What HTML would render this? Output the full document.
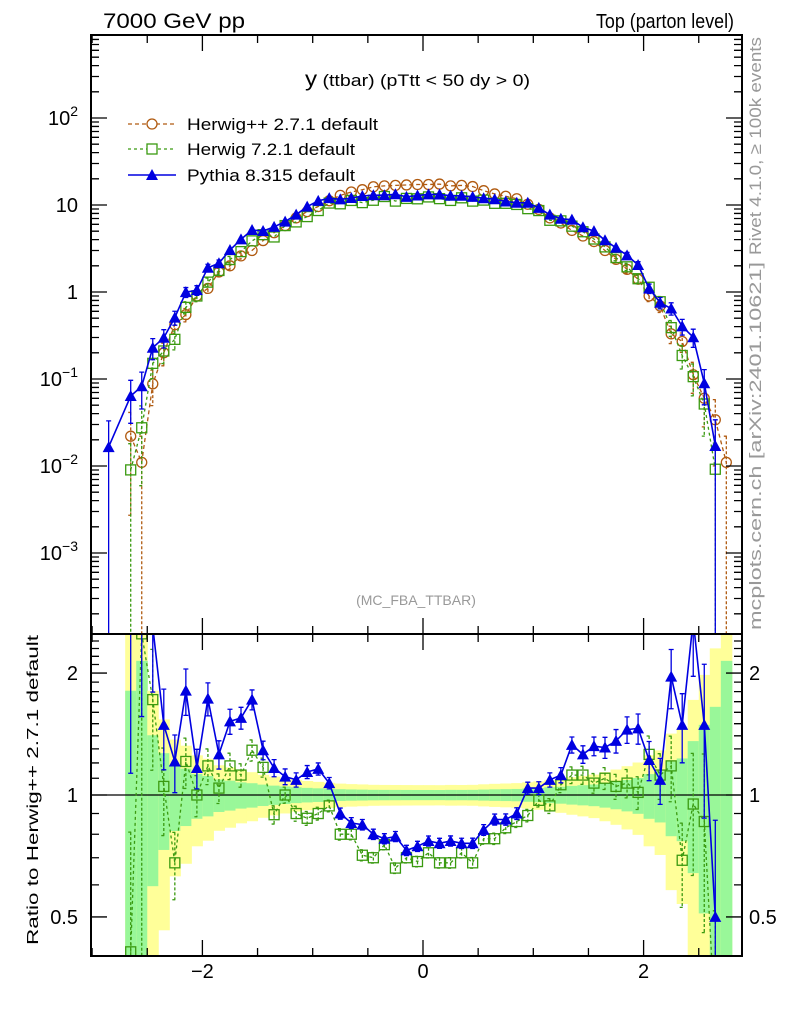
<!DOCTYPE html>
<html><head><meta charset="utf-8"><style>
html,body{margin:0;background:#fff;overflow:hidden;width:786px;height:1024px;}
svg{display:block;font-family:"Liberation Sans",sans-serif;}
</style></head><body>
<svg id="chart" width="786" height="1024" viewBox="0 0 786 1024" xmlns="http://www.w3.org/2000/svg">
<defs>
<clipPath id="clipMain"><rect x="91" y="35" width="651" height="599"/></clipPath>
<clipPath id="clipRatio"><rect x="91" y="634" width="651" height="322"/></clipPath>
</defs>
<text x="103" y="28" font-size="21" textLength="142" lengthAdjust="spacingAndGlyphs">7000 GeV pp</text>
<text x="596" y="28" font-size="20" textLength="138" lengthAdjust="spacingAndGlyphs">Top (parton level)</text>
<text x="305" y="86" font-size="17" textLength="225" lengthAdjust="spacingAndGlyphs"><tspan font-size="21">y</tspan> (ttbar) (pTtt &lt; 50 dy &gt; 0)</text>
<text x="416" y="605" font-size="14" fill="#999" text-anchor="middle">(MC_FBA_TTBAR)</text>
<text transform="translate(761,255) rotate(-90)" font-size="17" fill="#999" textLength="218" lengthAdjust="spacingAndGlyphs">Rivet 4.1.0, ≥ 100k events</text>
<text transform="translate(761,630) rotate(-90)" font-size="17" fill="#999" textLength="368" lengthAdjust="spacingAndGlyphs">mcplots.cern.ch [arXiv:2401.10621]</text>
<text transform="translate(38,945) rotate(-90)" font-size="16" textLength="310" lengthAdjust="spacingAndGlyphs">Ratio to Herwig++ 2.7.1 default</text>
<g id="bands" clip-path="url(#clipRatio)"></g>
<g id="marksMain" clip-path="url(#clipMain)"></g>
<g id="marksRatio" clip-path="url(#clipRatio)"></g>
<g id="axes"></g>
<g id="legend">
  <line x1="128" y1="124" x2="176" y2="124" stroke="#b05a10" stroke-width="1.3" stroke-dasharray="4,3"/>
  <circle cx="152" cy="124" r="5" fill="#fff" stroke="#b05a10" stroke-width="1.3"/>
  <text x="187" y="130" font-size="17" textLength="191" lengthAdjust="spacingAndGlyphs">Herwig++ 2.7.1 default</text>
  <line x1="128" y1="149" x2="176" y2="149" stroke="#3a9a10" stroke-width="1.3" stroke-dasharray="3,3"/>
  <rect x="147" y="144" width="10" height="10" fill="#fff" stroke="#3a9a10" stroke-width="1.3"/>
  <text x="187" y="155" font-size="17" textLength="168" lengthAdjust="spacingAndGlyphs">Herwig 7.2.1 default</text>
  <line x1="128" y1="175" x2="176" y2="175" stroke="#0000e0" stroke-width="1.5"/>
  <polygon points="152,169 158,180 146,180" fill="#0000e0"/>
  <text x="187" y="181" font-size="17" textLength="168" lengthAdjust="spacingAndGlyphs">Pythia 8.315 default</text>
</g>
</svg>
<script>
const centers = [-2.85,-2.75,-2.65,-2.55,-2.45,-2.35,-2.25,-2.15,-2.05,-1.95,-1.85,-1.75,-1.65,-1.55,-1.45,-1.35,-1.25,-1.15,-1.05,-0.95,-0.85,-0.75,-0.65,-0.55,-0.45,-0.35,-0.25,-0.15,-0.05,0.05,0.15,0.25,0.35,0.45,0.55,0.65,0.75,0.85,0.95,1.05,1.15,1.25,1.35,1.45,1.55,1.65,1.75,1.85,1.95,2.05,2.15,2.25,2.35,2.45,2.55,2.65,2.75];
const herwigpp = [null,null,0.022,0.011,0.088,0.20,0.42,0.55,0.9,1.1,1.7,2.0,2.6,3.0,3.9,4.8,5.8,7.1,8.4,9.6,11.2,12.9,14.1,15.0,16.2,16.6,16.8,17.0,17.2,17.2,17.4,16.6,16.8,16.3,14.6,13.4,12.6,11.8,10.2,8.9,7.1,6.2,5.1,4.4,3.8,3.0,2.37,1.82,1.4,0.9,0.69,0.33,0.27,0.112,0.06,0.034,0.011];
const h7Ratio = [null,null,0.41,2.5,1.72,1.05,0.68,1.21,1.0,1.18,1.04,1.18,1.12,1.29,1.17,0.894,1.0,0.90,0.876,0.90,0.94,0.80,0.80,0.71,0.70,0.754,0.66,0.70,0.685,0.72,0.68,0.68,0.72,0.68,0.78,0.78,0.83,0.86,0.89,0.97,0.94,1.06,1.12,1.12,1.07,1.10,1.05,1.07,1.015,1.26,1.12,1.18,0.69,0.95,0.86,0.27,null];
const pyRatio = [null,null,2.9,7.5,2.6,1.49,1.21,1.81,1.166,1.73,1.26,1.52,1.55,1.72,1.29,1.166,1.11,1.09,1.14,1.16,1.07,0.90,0.853,0.845,0.80,0.78,0.79,0.73,0.747,0.77,0.76,0.77,0.76,0.76,0.82,0.87,0.87,0.90,1.04,1.04,1.09,1.12,1.33,1.26,1.32,1.31,1.36,1.45,1.46,1.22,1.09,1.96,1.49,2.7,1.49,0.50,null];
const pythiaFirstBin = 0.0165;
const xTicks = [-2, 0, 2];
const mainTickLabels = ["10^2","10","1","10^-1","10^-2","10^-3"];
const mainTickValues = [100,10,1,0.1,0.01,0.001];
const ratioTickValues = [2,1,0.5];
const ratioTickLabels = ["2","1","0.5"];

const X0=91,X1=742,MT=35,MB=634,RB=956;
const xS = v => 423 + v*110.3;
const yM = v => 292 - 87*Math.log10(v);
const yR = r => 795 - 405*Math.log10(r);
const NS="http://www.w3.org/2000/svg";
function mk(tag, attrs, parent){const e=document.createElementNS(NS,tag);for(const k in attrs)e.setAttribute(k,attrs[k]);parent.appendChild(e);return e;}
const gM=document.getElementById('marksMain'), gR=document.getElementById('marksRatio'), gB=document.getElementById('bands'), gA=document.getElementById('axes');

const herwig7 = centers.map((c,i)=> herwigpp[i]!=null && h7Ratio[i]!=null ? herwigpp[i]*h7Ratio[i] : null);
const pythia = centers.map((c,i)=> i===0 ? pythiaFirstBin : (herwigpp[i]!=null && pyRatio[i]!=null ? herwigpp[i]*pyRatio[i] : null));
const relErr = v => 0.13/Math.sqrt(v);

centers.forEach((c,i)=>{
  const v=herwigpp[i]; if(v==null) return;
  const e=0.12/Math.sqrt(v);
  const xa=xS(c-0.05), xb=xS(c+0.05);
  const yl=Math.max(1-2*e,0.3), yu=1+2*e, gl=Math.max(1-e,0.3), gu=1+e;
  const b1=mk('rect',{x:xa,y:yR(yu),width:xb-xa+0.5,height:yR(yl)-yR(yu),fill:'#ffff99'},gB);
  
  
  const b2=mk('rect',{x:xa,y:yR(gu),width:xb-xa+0.5,height:yR(gl)-yR(gu),fill:'#99f799'},gB);
  
  
});
const refLine=mk('line',{x1:X0,y1:yR(1),x2:X1,y2:yR(1),stroke:'#000','stroke-width':1.3},gB);



function series(vals, yF, g, color, dash, marker, name, errF){
  let d='';
  vals.forEach((v,i)=>{ if(v==null) return; d+=(d?'L':'M')+xS(centers[i]).toFixed(1)+','+yF(v).toFixed(1); });
  const p=mk('path',{d:d,fill:'none',stroke:color,'stroke-width':marker==='tri'?1.6:1.3},g);
  if(dash) p.setAttribute('stroke-dasharray',dash);
  
  
  vals.forEach((v,i)=>{
    if(v==null) return;
    const x=xS(centers[i]), y=yF(v);
    const re=errF(i);
    if(re!=null){
      const lo=Math.max(v*(1-re),1e-6), hi=v*(1+re);
      const eb=mk('path',{d:`M${x},${yF(hi)}L${x},${yF(lo)}M${x-2.5},${yF(hi)}L${x+2.5},${yF(hi)}M${x-2.5},${yF(lo)}L${x+2.5},${yF(lo)}`,stroke:color,'stroke-width':1.3,fill:'none'},g);
      if(dash) eb.setAttribute('stroke-dasharray','3,2');
      
      
    }
    let m;
    if(marker==='circle') m=mk('circle',{cx:x,cy:y,r:5,fill:'none',stroke:color,'stroke-width':1.3},g);
    else if(marker==='square') m=mk('rect',{x:x-5,y:y-5,width:10,height:10,fill:'none',stroke:color,'stroke-width':1.3},g);
    else m=mk('polygon',{points:`${x},${y-6} ${x+6},${y+5} ${x-6},${y+5}`,fill:color},g);
    
    
  });
}
const cHpp='#b05a10', cH7='#3a9a10', cPy='#0000e0';
series(herwigpp,yM,gM,cHpp,'4,3','circle','herwigpp',i=>{const r=relErr(herwigpp[i]);return r>0.08?Math.min(r,0.9999):null;});
series(herwig7,yM,gM,cH7,'3,3','square','herwig7',i=>{const r=relErr(herwig7[i]);return r>0.08?Math.min(r,0.9999):null;});
series(pythia,yM,gM,cPy,null,'tri','pythia',i=>{const r=relErr(pythia[i]);return r>0.08?Math.min(r,0.9999):null;});
series(h7Ratio,yR,gR,cH7,'3,3','square','herwig7-ratio',i=>{const a=relErr(herwigpp[i]||1),b=relErr(herwig7[i]||1);return Math.min(Math.sqrt(a*a+b*b)*0.6,0.9999);});
series(pyRatio,yR,gR,cPy,null,'tri','pythia-ratio',i=>{const a=relErr(herwigpp[i]||1),b=relErr(pythia[i]||1);return Math.min(Math.sqrt(a*a+b*b)*0.6,0.9999);});

const f1=mk('rect',{x:X0,y:MT,width:X1-X0,height:MB-MT,fill:'none',stroke:'#000','stroke-width':2},gA);


const f2=mk('rect',{x:X0,y:MB,width:X1-X0,height:RB-MB,fill:'none',stroke:'#000','stroke-width':2},gA);


let td='';
for(let v=-3;v<=3.001;v+=0.5){
  const x=xS(v); if(x<X0+1||x>X1-1) continue;
  const major=Math.abs(v%2)<1e-6; const L=major?16:8;
  td+=`M${x},${MT}v${L}M${x},${MB}v${-L}M${x},${MB}v${L}M${x},${RB}v${-L}`;
}
for(let dec=-4;dec<=2;dec++){
  for(let k=1;k<=9;k++){
    const v=k*Math.pow(10,dec), y=yM(v); if(y<MT+1||y>MB-1) continue;
    const L=k===1?16:8;
    td+=`M${X0},${y}h${L}M${X1},${y}h${-L}`;
  }
}
for(let r=0.4;r<=2.5;r+=0.1){
  const y=yR(r); if(y<MB+1||y>RB-1) continue;
  const major=Math.abs(r-1)<1e-6||Math.abs(r-2)<1e-6||Math.abs(r-0.5)<1e-6; const L=major?16:8;
  td+=`M${X0},${y}h${L}M${X1},${y}h${-L}`;
}
const tk=mk('path',{d:td,stroke:'#000','stroke-width':1.3,fill:'none'},gA);



xTicks.forEach(v=>{
  const t=mk('text',{x:xS(v),y:978,'font-size':20,'text-anchor':'middle'},gA);
  t.textContent=v<0?'\u2212'+Math.abs(v):String(v);
  
  
});
mainTickValues.forEach((v,i)=>{
  const lab=mainTickLabels[i]; const y=yM(v)+7;
  const t=mk('text',{x:78,y:y,'font-size':20,'text-anchor':'end'},gA);
  const parts=lab.split('^');
  if(parts.length===2){
    t.textContent=parts[0];
    const s=mk('tspan',{dy:-9,'font-size':14},t); s.textContent=parts[1].replace('-','\u2212');
  } else t.textContent=lab;
  
  
});
ratioTickValues.forEach((v,i)=>{
  const y=yR(v)+7;
  const t=mk('text',{x:78,y:y,'font-size':20,'text-anchor':'end'},gA);
  t.textContent=ratioTickLabels[i];
  
  
  const t2=mk('text',{x:749,y:y,'font-size':20},gA);
  t2.textContent=ratioTickLabels[i];
  
  
});
</script>
</body></html>
